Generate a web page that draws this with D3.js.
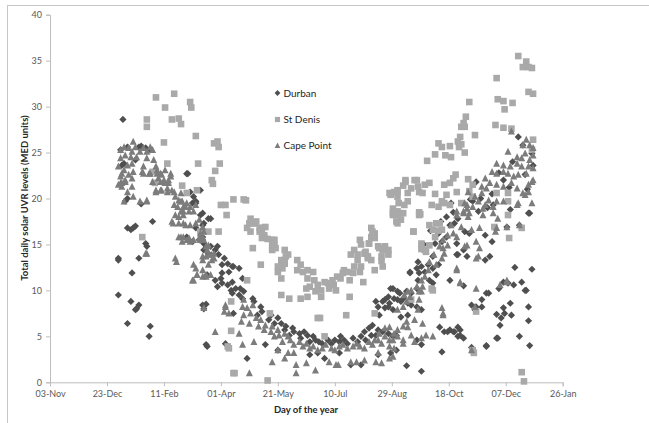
<!DOCTYPE html>
<html><head><meta charset="utf-8">
<script src="https://cdn.jsdelivr.net/npm/d3@7"></script>
<style>body{margin:0;background:#fff;}svg{display:block;}</style>
</head><body><svg id="c" width="649" height="423"></svg>
<script>
// ---- data ----
const xTickLabels = ["03-Nov","23-Dec","11-Feb","01-Apr","21-May","10-Jul","29-Aug","18-Oct","07-Dec","26-Jan"];
const yTicks = [0,5,10,15,20,25,30,35,40];
const seriesNames = ["Durban","St Denis","Cape Point"];
// [day of year 2012, total daily UVR (MED)]
const durban = [[6,28.6],[7,23.8],[5,23.6],[10,25.6],[4,25.3],[20,25.6],[26,25.5],[30,25.3],[22,25.7],[17,24.2],
[62,22.7],[63,22.7],[74,20.9],[65,20.7],[68,20.2],[70,19.7],[67,19.5],[70,19.5],[76,18.4],[83,17.8],[77,17.3],[74,18.2],[81,17.8],[76,17.1],
[10,20.0],[8,19.7],[22,19.4],[32,17.5],[10,16.8],[13,16.6],[15,16.8],[17,17.0],[26,15.1],[27,14.8],
[70,16.8],[74,16.4],[76,15.8],[62,15.7],[67,15.3],[73,15.5],[62,15.8],
[77,15.1],[83,14.8],[87,14.4],[81,14.0],[90,13.9],[95,13.5],[98,12.9],[93,12.8],[102,12.6],[77,14.4],[89,14.8],[80,11.7],[89,10.4],
[2,13.5],[20,13.5],[2,13.3],[14,11.9],[2,9.5],[13,8.8],[20,8.4],[18,8.0],[17,7.9],[10,6.4],[30,6.1],[29,5.0],
[76,8.4],[79,8.5],[77,8.0],[79,4.1],[80,3.9],[96,4.2],
[87,11.1],[92,11.3],[93,10.8],[98,10.6],[102,10.9],[105,10.2],[101,10.0],[108,9.5],[111,9.1],[103,7.5],[102,9.7],
[108,12.4],[103,12.6],[99,12.0],[93,11.9],[111,11.3],[109,10.2],[112,9.9],
[120,9.1],[121,8.8],[127,8.2],[128,7.7],[124,7.3],[136,7.3],[134,6.8],[142,7.0],[139,6.4],[145,6.4],[149,6.1],[148,5.7],[155,5.9],[156,5.5],[152,5.1],[161,5.3],[165,5.5],[168,5.1],[162,4.8],[173,5.0],[175,4.6],[178,4.4],[170,4.4],[181,4.2],[186,4.6],[189,4.2],[192,4.6],[196,4.4],[197,5.0],[200,4.6],[203,4.2],[208,4.8],[212,4.4],[215,5.0],[218,5.5],[219,4.6],[224,5.1],[228,5.1],[222,5.9],[225,6.2],[230,5.7],[234,5.5],[239,5.3],[243,5.0],[246,5.1],
[231,7.3],[236,8.1],[240,8.6],[230,8.2],[228,8.8],[234,8.8],[239,9.3],[243,10.2],[247,9.9],[244,9.1],
[131,4.1],[142,3.5],[170,3.0],[177,3.2],[183,2.6],[196,3.2],[206,1.9],[215,1.9],[230,3.0],[241,3.2],[246,3.5],[115,2.6],
[241,10.2],[236,9.0],[239,8.2],[243,7.9],[247,9.0],[252,9.1],[256,8.6],[259,9.7],[264,10.2],[265,11.1],[258,12.0],[266,11.9],
[296,18.5],[363,18.4],[293,17.1],[297,17.3],[306,16.4],[310,16.2],[324,16.0],[330,15.3],[343,16.9],[354,17.1],[290,15.8],[286,15.3],[299,15.1],[305,14.4],
[280,15.1],[278,13.7],[283,12.8],[299,13.9],[308,13.7],[324,13.3],[328,13.7],
[265,13.1],[268,12.6],[264,12.4],[271,12.0],[274,12.8],[278,12.4],[281,11.7],[275,11.1],[278,10.8],[258,11.9],[255,9.9],[249,9.7],[250,8.8],[259,8.4],[264,8.2],[268,7.9],[256,7.3],[250,7.1],
[284,6.0],[288,5.5],[293,5.7],[297,5.5],[302,5.7],[300,5.0],[305,4.8],[325,4.0],[334,4.8],[350,12.5],[365,12.3],[293,11.1],[305,10.5],[325,9.7],[321,9.0],[321,8.2],[334,7.4],[340,8.1],[347,7.3],[338,7.0],
[312,3.8],[286,3.3],[264,4.6],[268,4.1],[255,1.8],[268,1.2],[337,6.2],[354,5.0],[363,4.0],[360,10.0],[344,10.8],[356,10.9],[362,8.2],[362,6.7],[312,8.4],[315,7.9],
[336,10.2],[340,10.9],[349,10.6],[359,10.0],[335,4.8],[325,3.9],[327,9.7],[316,8.2],[346,8.6],[341,7.5],[300,13.9],[300,6.0],[291,5.5],[296,5.5],[302,5.1],
[353,26.7],[365,24.9],[366,23.6],[362,18.4],[313,19.7],[318,18.6],[294,19.5],[331,19.3],[346,18.8],
[340,22.0],[345,21.2],[330,20.5],[357,25.8],[359,22.6],[361,21.0],[320,20.0],[326,19.0],[336,22.8],[348,24.0],[316,21.8],[311,19.9],
[285,17.5],[290,18.0],[300,17.8],[276,16.5],[270,15.0],[283,16.2]];

const stDenis = [[35,31.0],[51,31.4],[43,29.9],[27,28.6],[27,27.8],[49,28.6],[55,28.7],[57,28.1],[65,30.5],[66,29.9],[70,26.8],[42,26.1],[45,23.8],[58,21.4],[72,23.8],[62,20.6],[71,20.9],[86,26.0],[89,26.2],[90,25.6],[87,23.0],[91,23.8],[84,22.0],[85,21.6],[32,22.9],[34,21.7],[23,15.8],[74,16.4],[90,16.4],
[103,19.9],[112,19.9],[240,20.6],[247,20.9],[254,21.8],[262,22.0],[265,21.3],[92,19.3],[96,19.3],[97,18.2],
[117,17.3],[121,17.3],[126,16.8],[128,16.4],[130,15.8],[133,15.6],[118,16.4],[120,14.6],[137,15.5],[139,14.9],[137,14.4],[148,14.4],[151,13.9],[148,13.3],[145,12.9],[146,12.4],[142,12.0],[145,11.3],[159,13.3],[162,12.8],[159,12.2],[164,12.0],[168,12.2],[173,12.0],[168,11.3],[170,10.4],[167,10.2],[174,11.1],[177,10.6],[180,10.0],[175,9.9],[145,9.5],[152,9.1],[162,9.1],
[183,10.9],[186,10.8],[187,10.2],[190,11.1],[191,10.6],[193,10.0],[194,11.5],[197,11.3],[199,11.9],[200,12.2],[203,12.0],[205,11.1],[208,11.9],[209,12.6],[212,13.3],[215,12.6],[214,12.0],[218,14.0],[221,13.7],[224,13.3],[222,15.1],[224,15.8],[227,16.2],[230,14.8],[234,14.4],[239,13.9],[233,13.2],[217,10.9],
[227,7.5],[177,7.0],[202,7.3],[183,5.0],[133,0.2],[103,1.0],[98,3.9],[81,16.4],
[243,18.2],[247,18.6],[252,18.4],[247,17.3],[250,17.7],[243,18.9],[253,19.3],[256,19.7],[261,16.4],[266,18.2],[268,15.1],[227,12.2],[234,12.6],
[353,35.5],[360,34.9],[362,34.3],[357,34.3],[365,34.2],[334,33.1],[362,31.6],[366,31.4],[310,30.5],[335,30.8],[340,30.6],[348,30.4],[341,29.7],[307,28.9],[305,28.2],[306,27.8],[303,27.8],[333,28.0],[340,27.7],[347,27.6],[315,26.9],[302,26.7],[300,26.2],[303,25.9],[301,25.6],[283,26.0],[286,25.6],[293,25.7],[280,24.8],[289,24.7],[294,24.5],[306,25.0],[273,24.1],[366,26.4],[365,25.3],
[254,22.0],[264,22.0],[275,21.7],[271,21.5],[247,20.7],[252,21.4],[256,20.6],[259,21.1],[266,20.7],[269,20.6],[288,21.5],[293,21.7],[298,22.6],[296,22.2],[309,22.1],[313,21.5],[280,20.5],[290,20.4],[299,20.7],[310,20.8],[248,19.5],[250,18.4],[266,18.5],[286,19.7],[293,19.3],[303,19.5],[313,20.2],[334,20.6],[344,20.6],[344,19.7],
[267,18.3],[275,17.1],[284,17.3],[278,16.6],[283,16.5],[261,16.4],[268,14.5],[272,14.2],[275,14.9],[277,10.2],[278,10.0],[259,9.0],[332,16.9],[344,18.2],[356,16.8],[345,15.7],[316,7.7],[313,3.5],[314,3.2],[356,1.1],[358,0.1],
[277,19.3],[283,19.1],[288,19.5],[271,14.4],[280,15.8],[281,17.3],[286,16.6],
[101,8.8],[101,5.6],[99,3.7],[104,1.0],
[114,19.8],[118,17.8],[123,17.5],[115,16.8],[120,17.3],[127,16.8],[131,16.9],[126,16.4],[130,16.0],[128,15.7],[139,15.5],[137,14.8],[140,14.6],[127,12.8],[145,13.3],[149,13.7],[148,12.9],[142,12.6],
[224,16.8],[225,16.4],[227,15.7],[222,15.1],[214,15.5],[215,15.0],[209,14.4],[206,13.9],[212,13.9],[219,14.2],[231,14.6],[236,14.8],[239,14.4],[233,13.7],[221,13.5],[244,20.7],[241,20.4],[247,20.2],[243,18.4],[247,18.2],[246,17.5],
[115,11.1],[168,9.3],[180,9.3],[205,9.3],[179,7.0],[135,7.5]];

const capePoint = [[4,25.3],[7,25.6],[11,25.5],[15,26.2],[17,25.6],[14,25.1],[8,24.7],[4,24.4],[13,24.5],[18,24.5],[21,25.1],[27,25.1],[24,25.5],[30,25.6],[32,25.3],[27,24.4],[33,24.2],
[2,23.5],[7,23.1],[10,23.6],[14,23.8],[15,22.9],[4,22.4],[8,22.0],[2,21.5],[5,21.7],[14,22.2],[24,22.7],[30,22.7],[36,23.1],[39,22.7],[32,21.8],[37,22.2],[42,22.0],[48,22.4],[46,21.7],[35,20.9],[39,20.9],[45,20.7],[51,20.7],[57,20.6],[10,20.7],[15,20.2],
[7,19.7],[27,19.7],[50,17.3],[51,19.3],[57,19.7],[61,19.1],[55,18.0],[59,18.6],[61,17.1],[57,15.8],[58,15.3],[53,13.1],[27,14.0],[64,15.7],[65,15.3],[68,12.8],[70,12.4],[71,11.7],[67,11.1],[74,15.5],[76,15.8],[77,8.1],[87,5.5],[80,14.4],[84,13.9],[86,13.5],[81,12.8],[76,13.3],[79,11.7],
[5,22.7],[11,22.6],[8,21.8],[4,21.7],[14,21.3],[5,21.3],
[23,22.9],[24,23.5],[29,22.7],[35,23.5],[36,22.7],[40,22.6],[43,23.1],[48,22.7],[46,22.0],[39,21.8],[43,21.7],[35,20.7],[40,20.9],[45,21.1],[49,20.9],[52,20.2],[55,19.8],[54,19.1],[58,19.7],[59,19.1],[62,19.5],[65,19.1],[64,18.6],[68,18.6],[70,19.3],[57,18.6],[52,18.2],[59,18.2],[49,17.5],[55,17.3],[59,17.3],[65,17.1],[70,17.3],[73,17.7],[76,16.9],[77,16.4],[59,15.8],[55,15.8],[62,15.5],[68,15.5],[73,15.7],[74,16.2],[27,19.8],[21,19.7],[26,14.0],[52,13.5],[79,14.8],[81,13.9],[76,13.7],[84,13.3],
[68,11.1],[71,11.7],[79,11.5],[76,12.2],[96,8.4],[95,7.7],[110,6.6],[108,5.3],[111,4.1],
[112,9.0],[111,8.2],[115,8.1],[120,8.4],[112,7.3],[118,7.5],[123,7.0],[117,6.4],[127,6.8],[125,6.1],[131,6.2],[130,5.7],[137,6.1],[136,5.5],[142,5.7],[143,5.1],[139,5.0],[148,5.3],[151,5.0],[153,4.6],[146,4.4],[156,4.1],[161,4.4],[164,3.9],[167,4.2],[170,3.7],[173,3.9],[177,3.5],[181,3.7],[184,4.1],[189,3.7],[192,3.5],[196,3.9],[199,4.1],[203,3.7],[208,3.9],[211,4.2],[214,3.9],[218,3.7],[222,4.4],[225,4.1],[230,4.6],[233,4.2],[236,5.0],[240,4.6],[244,5.3],[247,5.0],
[137,2.2],[148,2.6],[158,1.9],[167,2.1],[175,1.3],[187,2.2],[195,1.9],[206,2.2],[211,2.2],[218,2.4],[228,2.2],[230,3.2],[240,2.6],[244,3.7],[117,1.0],[121,4.4],[151,3.2],[156,3.2],[142,3.5],
[77,15.5],[81,14.9],[79,13.7],[86,14.0],[76,11.5],[83,11.7],[96,8.2],[99,7.5],[158,1.0],[193,1.9],
[240,3.9],[243,4.6],[247,5.7],[252,4.6],[256,6.0],[262,6.8],[265,7.9],[266,9.0],[268,9.9],[233,2.1],[243,2.8],[227,4.6],[231,5.3],[236,5.9],[240,6.0],
[305,18.4],[309,18.0],[322,18.2],[331,18.4],[335,17.8],[319,16.8],[312,16.6],[303,16.9],[299,15.8],[296,16.2],[287,15.5],[291,14.9],[284,14.8],[308,14.9],[316,15.3],[318,13.7],[299,12.4],[302,10.9],[316,10.2],[343,11.1],[337,10.6],[286,8.1],[287,7.5],[269,6.4],[268,11.1],[259,10.0],[258,9.3],[271,11.5],[274,12.2],[281,12.8],[255,6.6],[252,6.1],[252,4.2],[259,5.1],[262,4.4],[268,4.8],[272,5.1],[278,5.0],[312,3.5],[253,9.5],
[347,27.3],[360,26.4],[357,25.8],[363,25.8],[366,25.5],[344,25.1],[352,24.5],[356,24.4],[359,24.9],[363,24.2],[366,24.7],[334,23.8],[340,23.6],[346,23.5],[352,23.8],[356,23.5],[362,23.5],[366,23.3],[330,22.9],[334,22.7],[340,22.9],[344,22.7],[349,22.4],[353,22.6],[360,22.7],[365,21.8],[362,21.5],[366,22.0],[324,22.2],[328,21.7],[321,21.3],[325,21.1],[334,21.5],[340,21.3],[347,21.7],[352,21.1],[357,20.6],[362,20.7],[309,20.7],[315,20.2],[321,20.6],[318,19.7],[327,19.8],[334,19.7],[331,19.1],[322,18.9],[313,19.1],[308,19.3],[352,19.3],[359,20.4],[365,19.5],[308,18.9],[299,18.6],
[306,19.5],[324,19.3],[340,19.7],[353,19.5],[305,18.6],[310,18.4],[333,16.4],[354,17.1],[343,16.9],
[287,14.6],[288,14.0],[306,14.8],[319,14.6],[316,13.5],[299,12.2],[302,10.8],[315,8.2],[287,7.3],[343,10.9],[334,16.8],
[256,9.9],[264,10.4],[266,9.9],[269,10.4],[255,8.8],[247,7.9],[252,8.2],[275,13.1],[279,13.9],[291,16.0],[294,17.1],[299,18.2],[286,13.5]];

// ---- layout ----
const W = 649, H = 423;
const svg = d3.select("#c");
const start = new Date(2011, 10, 3), end = new Date(2013, 0, 26);
const x = d3.scaleTime().domain([start, end]).range([50, 562.7]);
const y = d3.scaleLinear().domain([0, 40]).range([382.3, 14.7]);
const dayDate = d => new Date(2012, 0, d);

// outer frame
svg.append("rect").attr("x", 7.5).attr("y", 5.5).attr("width", 700).attr("height", 500)
  .attr("fill", "none").attr("stroke", "#c6c6c6").attr("stroke-width", 1);

const tickDates = xTickLabels.map((_, i) => d3.timeDay.offset(start, i * 50));
const xAxis = d3.axisBottom(x).tickValues(tickDates).tickSize(4).tickPadding(4)
  .tickFormat((d, i) => xTickLabels[i]);
const yAxis = d3.axisLeft(y).tickValues(yTicks).tickSize(4).tickPadding(4);

const gx = svg.append("g").attr("transform", "translate(0,382.3)").call(xAxis);
const gy = svg.append("g").attr("transform", "translate(50,0)").call(yAxis);
[gx, gy].forEach(g => {
  g.select(".domain").attr("stroke", "#bdbdbd");
  g.selectAll(".tick line").attr("stroke", "#bdbdbd");
  g.selectAll(".tick text").attr("fill", "#595959").attr("font-family", "Lato, 'Open Sans', sans-serif").attr("font-size", 9);
});

// markers
const diamond = r => `M0,${-r}L${r},0L0,${r}L${-r},0Z`;
const square = s => `M${-s/2},${-s/2}h${s}v${s}h${-s}Z`;
const triangle = s => `M0,${-s*0.55}L${s/2},${s*0.45}L${-s/2},${s*0.45}Z`;
const plot = svg.append("g");
function drawSeries(data, path, color) {
  plot.append("g").selectAll("path").data(data).join("path")
    .attr("d", path)
    .attr("transform", d => `translate(${x(dayDate(d[0]))},${y(d[1])})`)
    .attr("fill", color);
}
drawSeries(durban, diamond(3.6), "#4f4f4f");
drawSeries(stDenis, square(6.6), "#a9a9a9");
drawSeries(capePoint, triangle(7), "#7c7c7c");

// legend
const leg = svg.append("g").attr("font-family", "Lato, 'Open Sans', sans-serif").attr("font-size", 10).attr("fill", "#262626");
const legItems = [
  {name: seriesNames[0], path: diamond(2.9), color: "#4f4f4f", yy: 93},
  {name: seriesNames[1], path: square(5.2), color: "#a9a9a9", yy: 119.5},
  {name: seriesNames[2], path: triangle(5.6), color: "#7c7c7c", yy: 145.5}
];
legItems.forEach(it => {
  leg.append("path").attr("d", it.path).attr("fill", it.color).attr("transform", `translate(277.5,${it.yy})`);
  leg.append("text").attr("x", 283.5).attr("y", it.yy).attr("dy", "0.35em").text(it.name);
});

// axis titles
svg.append("text").attr("x", 306).attr("y", 413).attr("text-anchor", "middle")
  .attr("font-family", "Lato, 'Open Sans', sans-serif").attr("font-weight", "bold").attr("font-size", 9.5)
  .attr("fill", "#262626").text("Day of the year");
svg.append("text").attr("transform", "translate(28,198) rotate(-90)").attr("text-anchor", "middle")
  .attr("font-family", "Lato, 'Open Sans', sans-serif").attr("font-weight", "bold").attr("font-size", 9.5)
  .attr("fill", "#262626").text("Total daily solar UVR levels (MED units)");
</script></body></html>
